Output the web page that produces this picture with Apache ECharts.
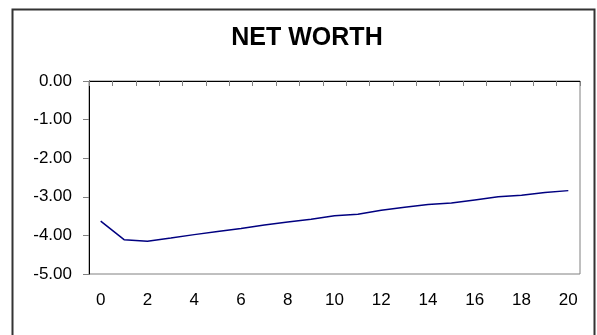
<!DOCTYPE html>
<html>
<head>
<meta charset="utf-8">
<script src="https://cdn.jsdelivr.net/npm/echarts@6/dist/echarts.min.js"></script>
<style>
  html, body { margin: 0; padding: 0; background: #fff; }
  #chart { width: 597px; height: 335px; }
</style>
</head>
<body>
<div id="chart"></div>
<script>
// Years along the horizontal axis
const years = ['0','1','2','3','4','5','6','7','8','9','10','11','12','13','14','15','16','17','18','19','20'];
// Net worth per year
const netWorth = [-3.63, -4.11, -4.15, -4.07, -3.98, -3.90, -3.82, -3.73, -3.65, -3.58, -3.49,
                  -3.45, -3.35, -3.27, -3.20, -3.16, -3.08, -3.00, -2.96, -2.89, -2.84];
// Value axis range
const yMin = -5;
const yMax = 0;
const yStep = 1;

const FONT = '"Liberation Sans", Arial, sans-serif';

const chart = echarts.init(document.getElementById('chart'), null, { renderer: 'canvas' });

chart.setOption({
  animation: false,
  backgroundColor: '#ffffff',
  graphic: [{
    type: 'rect',
    left: 10, top: 7,
    shape: { width: 582, height: 340 },
    style: { fill: 'none', stroke: '#333333', lineWidth: 2 },
    silent: true
  }],
  title: {
    text: 'NET WORTH',
    left: 302,
    textAlign: 'center',
    top: 21,
    textStyle: { fontFamily: FONT, fontSize: 25, fontWeight: 'bold', color: '#000' }
  },
  grid: {
    left: 89, top: 81, right: 17, bottom: 61,
    show: true,
    borderColor: '#808080',
    borderWidth: 1,
    backgroundColor: '#ffffff'
  },
  xAxis: [{
    type: 'category',
    data: years,
    position: 'bottom',
    boundaryGap: true,
    axisLine: { show: true, lineStyle: { color: '#808080', width: 1 } },
    axisTick: { show: false },
    axisLabel: {
      interval: 1,
      margin: 18,
      color: '#000',
      fontFamily: FONT,
      fontSize: 17
    },
    splitLine: { show: false }
  }, {
    type: 'category',
    data: years,
    position: 'top',
    boundaryGap: true,
    axisLine: { show: true, lineStyle: { color: '#000', width: 1 } },
    axisTick: { show: true, inside: true, length: 5, interval: 0, lineStyle: { color: '#808080' } },
    axisLabel: { show: false },
    splitLine: { show: false }
  }],
  yAxis: {
    type: 'value',
    min: yMin,
    max: yMax,
    interval: yStep,
    axisLine: { show: true, lineStyle: { color: '#000', width: 1 } },
    axisTick: { show: true, length: 6, lineStyle: { color: '#808080' } },
    axisLabel: {
      margin: 17,
      color: '#000',
      fontFamily: FONT,
      fontSize: 17,
      formatter: v => v.toFixed(2)
    },
    splitLine: { show: false }
  },
  series: [{
    type: 'line',
    data: netWorth,
    xAxisIndex: 0,
    showSymbol: false,
    symbol: 'none',
    lineStyle: { color: '#000080', width: 1.5 }
  }]
});
</script>
</body>
</html>
